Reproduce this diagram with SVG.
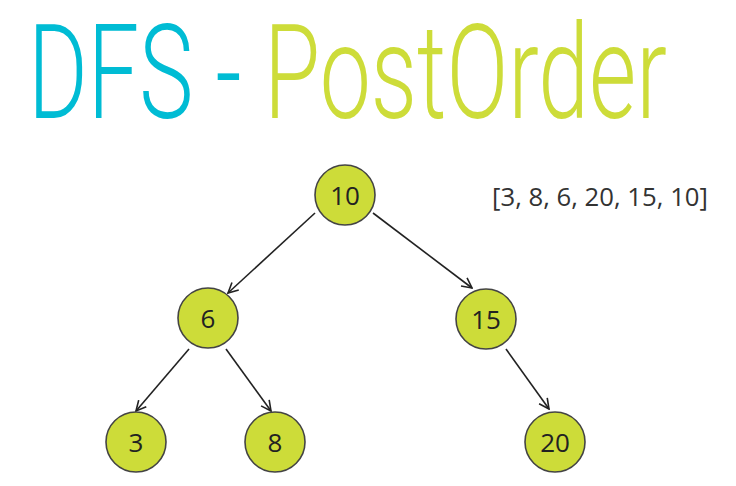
<svg xmlns="http://www.w3.org/2000/svg" width="736" height="486" viewBox="0 0 736 486">
<defs>
<marker id="arr" viewBox="0 0 12 12" refX="11" refY="6" markerWidth="12" markerHeight="12" markerUnits="userSpaceOnUse" orient="auto">
<path d="M1,1 L11,6 L1,11" fill="none" stroke="#222" stroke-width="1.6"/>
</marker>
</defs>
<style>
.node circle{fill:#cddc39;stroke:#444;stroke-width:1.6}
.node text,.lbl{font-family:"Open Sans","Noto Sans",sans-serif;font-size:26px;fill:#222;text-anchor:middle}
.edge{stroke:#222;stroke-width:1.6;fill:none;marker-end:url(#arr)}
.title{font-family:Roboto,"Liberation Sans",sans-serif;font-size:132px;font-weight:300}
</style>
<rect width="736" height="486" fill="#fff"/>
<text class="title" x="28" y="118" textLength="639" lengthAdjust="spacingAndGlyphs"><tspan fill="#00bcd4">DFS - </tspan><tspan fill="#cddc39">PostOrder</tspan></text>
<text class="lbl" x="600" y="206" style="font-size:25.5px;fill:#333" textLength="216" lengthAdjust="spacingAndGlyphs">[3, 8, 6, 20, 15, 10]</text>
<g id="edges">
<line class="edge" x1="315" y1="213" x2="228" y2="293"/>
<line class="edge" x1="373" y1="213" x2="472" y2="288"/>
<line class="edge" x1="189" y1="349" x2="136" y2="411"/>
<line class="edge" x1="226" y1="349" x2="271" y2="411"/>
<line class="edge" x1="506" y1="349" x2="549" y2="409"/>
</g>
<g id="n10" class="node"><circle cx="345" cy="195" r="30"/><text x="345" y="205">10</text></g>
<g id="n6" class="node"><circle cx="208" cy="318" r="30"/><text x="208" y="328">6</text></g>
<g id="n15" class="node"><circle cx="486" cy="319" r="30"/><text x="486" y="329">15</text></g>
<g id="n3" class="node"><circle cx="136" cy="442" r="30"/><text x="136" y="452">3</text></g>
<g id="n8" class="node"><circle cx="275" cy="442" r="30"/><text x="275" y="452">8</text></g>
<g id="n20" class="node"><circle cx="555" cy="442" r="30"/><text x="555" y="452">20</text></g>
</svg>
